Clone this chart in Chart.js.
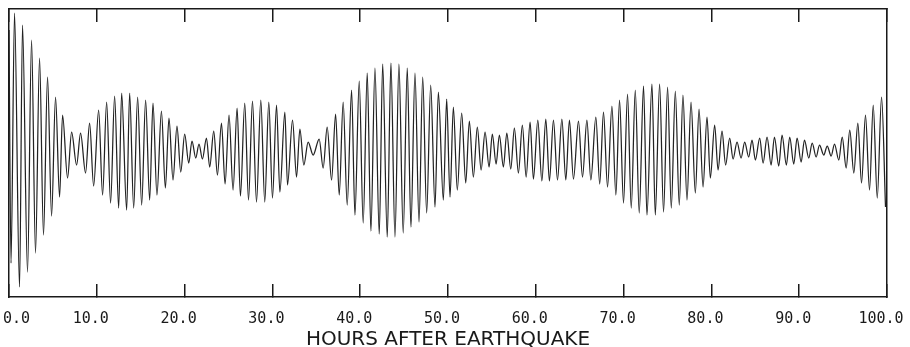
<!DOCTYPE html>
<html lang="en">
<head>
  <meta charset="UTF-8">
  <title>Hours after earthquake</title>
  <script src="https://cdn.jsdelivr.net/npm/chart.js"></script>
  <style>
    html, body { margin: 0; padding: 0; background: #fff; }
    canvas { display: block; }
  </style>
</head>
<body>
  <canvas id="quake" width="910" height="347"></canvas>

  <script>
    // peaks and troughs of the trace (hours, amplitude)
    const hours = [
      0.00, 0.23, 0.63, 1.20, 1.54, 2.11, 2.57, 3.02, 3.48, 3.93, 4.39, 4.85, 5.30, 5.76, 6.10, 6.67, 7.13, 7.70, 8.15, 8.72,
      9.18, 9.64, 10.21, 10.66, 11.12, 11.57, 12.03, 12.49, 12.83, 13.40, 13.74, 14.20, 14.65, 15.11, 15.56,
      16.02, 16.40, 16.85, 17.36, 17.81, 18.22, 18.68, 19.13, 19.56, 20.01, 20.47, 20.84, 21.27, 21.64, 22.03, 22.49, 22.86, 23.32, 23.74, 24.20,
      24.61, 25.06, 25.52, 25.98, 26.36, 26.85, 27.28, 27.73, 28.19, 28.68, 29.13, 29.59, 30.01, 30.47, 30.85, 31.42, 31.72, 32.29, 32.75, 33.13,
      33.58, 34.07, 34.64, 35.33, 35.78, 36.24, 36.74, 37.20, 37.61, 38.06, 38.52, 39.02, 39.40, 39.89, 40.34, 40.80, 41.22, 41.68, 42.17, 42.56,
      43.08, 43.50, 43.96, 44.41, 44.90, 45.36, 45.78, 46.24, 46.70, 47.12, 47.57, 48.03, 48.52, 48.90, 49.47, 49.85,
      50.23, 50.61, 51.06, 51.56, 52.02, 52.43, 52.89, 53.34, 53.77, 54.22, 54.68, 55.05, 55.48, 55.85, 56.31, 56.70, 57.15, 57.56, 58.02, 58.47,
      58.90, 59.35, 59.73, 60.23, 60.69, 61.14, 61.55, 62.01, 62.47, 62.97, 63.42, 63.83, 64.29, 64.86, 65.32, 65.82, 66.27, 66.84, 67.28,
      67.71, 68.17, 68.67, 69.12, 69.54, 69.99, 70.45, 70.87, 71.33, 71.78, 72.27, 72.66, 73.23, 73.61, 74.10, 74.55, 75.01, 75.43, 75.89, 76.34,
      76.76, 77.22, 77.68, 78.17, 78.59, 79.05, 79.50, 79.88, 80.37, 80.76, 81.21, 81.62, 82.08, 82.47, 82.92, 83.38, 83.79, 84.25,
      84.63, 85.01, 85.50, 85.89, 86.34, 86.80, 87.18, 87.67, 88.05, 88.54, 88.92, 89.38, 89.76, 90.22, 90.60, 91.09, 91.48, 91.93, 92.31, 92.80,
      93.19, 93.64, 94.02, 94.51, 94.90, 95.35, 95.76, 96.22, 96.68, 97.10, 97.55, 98.01, 98.43, 98.89, 99.38, 99.83
    ];
    const trace = [
      120, -113, 137, -137, 125, -122, 110, -103, 92, -85, 73, -66, 53, -47, 35, -28, 18, -15, 17, -23,
      27, -36, 40, -45, 48, -53, 54, -58, 57, -60, 57, -58, 53, -55, 50,
      -50, 47, -45, 39, -38, 32, -30, 24, -22, 16, -13, 9, -8, 6, -9, 12, -17, 19, -25, 27,
      -34, 35, -40, 42, -46, 47, -50, 49, -52, 50, -52, 48, -48, 45, -42, 38, -35, 30, -27, 21,
      -15, 8, -5, 11, -18, 23, -30, 36, -45, 48, -55, 60, -65, 69, -73, 77, -81, 82, -84, 86,
      -87, 87, -87, 86, -83, 82, -77, 77, -72, 73, -63, 65, -57, 58, -50, 51,
      -47, 43, -40, 37, -33, 29, -27, 23, -20, 18, -17, 16, -14, 15, -17, 17, -19, 22, -23, 25,
      -27, 28, -29, 30, -31, 31, -31, 30, -30, 31, -30, 30, -29, 29, -27, 30, -30, 33, -34,
      38, -37, 44, -45, 50, -53, 56, -58, 60, -63, 64, -65, 66, -65, 66, -62, 63, -58, 59, -55,
      55, -50, 48, -43, 41, -37, 33, -28, 25, -20, 19, -15, 12, -9, 8, -8, 8, -7,
      10, -10, 12, -13, 13, -15, 13, -16, 15, -15, 13, -14, 12, -12, 10, -8, 7, -7, 5, -5,
      4, -6, 6, -10, 13, -18, 20, -23, 27, -33, 35, -40, 45, -48, 53, -57
    ];
    const tickHours = [0, 10, 20, 30, 40, 50, 60, 70, 80, 90, 100];
    const xTitle = 'HOURS AFTER EARTHQUAKE';

    const ink = '#1a1a1a';

    function noPad(scale) {
      scale.paddingLeft = 0;
      scale.paddingRight = 0;
      scale.paddingTop = 0;
      scale.paddingBottom = 0;
    }

    new Chart(document.getElementById('quake'), {
      type: 'line',
      data: {
        datasets: [{
          data: hours.map((h, i) => ({ x: h, y: trace[i] })),
          borderColor: '#222',
          borderWidth: 1.25,
          pointRadius: 0,
          fill: false,
          cubicInterpolationMode: 'monotone'
        }]
      },
      options: {
        responsive: false,
        animation: false,
        events: [],
        layout: { padding: { left: 9, right: 23, top: 0, bottom: 0 } },
        plugins: { legend: { display: false }, tooltip: { enabled: false } },
        scales: {
          x: {
            type: 'linear',
            position: 'bottom',
            min: 0,
            max: 100,
            afterBuildTicks: s => { s.ticks = tickHours.map(v => ({ value: v })); },
            afterFit: s => { s.height = 50; noPad(s); },
            grid: { drawOnChartArea: false, drawTicks: true, tickLength: -13, color: ink, lineWidth: 1.5 },
            border: { display: true, color: ink, width: 1.5 },
            ticks: {
              autoSkip: false,
              maxRotation: 0,
              padding: 26,
              labelOffset: -6,
              color: ink,
              font: { family: 'DejaVu Sans Mono', size: 15 },
              callback: v => (v === 0 ? '   0.0' : v.toFixed(1))
            },
            title: {
              display: true,
              text: xTitle,
              color: ink,
              font: { family: 'DejaVu Sans', size: 20, lineHeight: 0.7 },
              padding: { top: 0, bottom: 0 }
            }
          },
          xTop: {
            type: 'linear',
            position: 'top',
            min: 0,
            max: 100,
            afterBuildTicks: s => { s.ticks = tickHours.map(v => ({ value: v })); },
            afterFit: s => { s.height = 9; noPad(s); },
            grid: { drawOnChartArea: false, drawTicks: true, tickLength: -13, color: ink, lineWidth: 1.5 },
            border: { display: true, color: ink, width: 1.5 },
            ticks: { display: false }
          },
          y: {
            position: 'left',
            min: -147,
            max: 141,
            afterFit: s => { s.width = 0; noPad(s); },
            grid: { display: false },
            border: { display: true, color: ink, width: 1.5 },
            ticks: { display: false }
          },
          yRight: {
            position: 'right',
            min: -147,
            max: 141,
            afterFit: s => { s.width = 0; noPad(s); },
            grid: { display: false },
            border: { display: true, color: ink, width: 1.5 },
            ticks: { display: false }
          }
        }
      }
    });
  </script>
</body>
</html>
